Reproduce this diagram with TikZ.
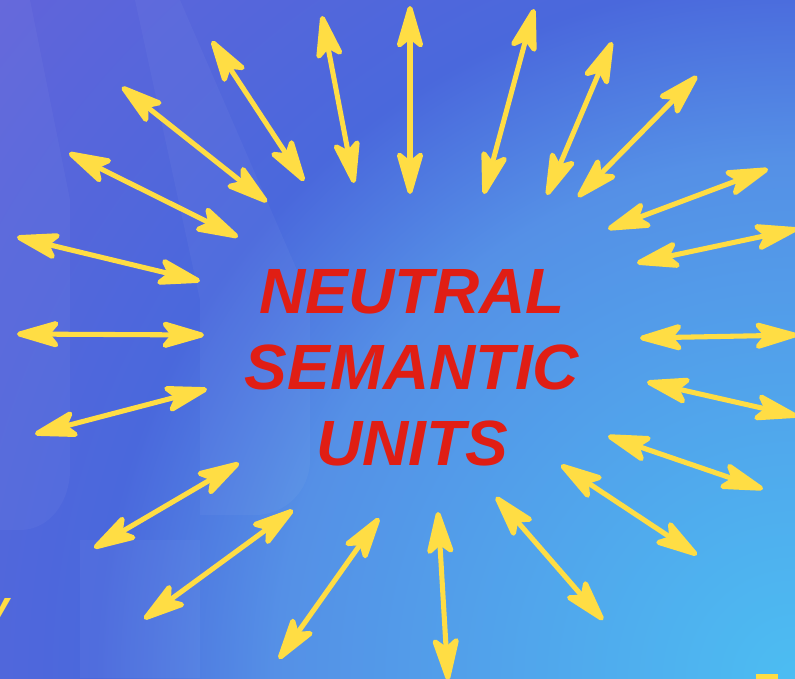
\documentclass[tikz,border=0pt]{standalone}
\usepackage{fontspec}
\setmainfont{Liberation Sans}
\usetikzlibrary{arrows.meta}

\definecolor{rayyellow}{HTML}{FFDD44}
\definecolor{unitred}{HTML}{E01E14}
\definecolor{glowA}{HTML}{4CBDF2}
\definecolor{glowB}{HTML}{5590E6}
\definecolor{glowC}{HTML}{4A68DC}
\definecolor{glowD}{HTML}{6164DA}

% background glow, centred on the bottom right corner
\pgfdeclareradialshading{glow}{\pgfpoint{0bp}{0bp}}{color(0bp)=(glowA); color(11.8bp)=(glowB); color(15.9bp)=(glowC); color(23.75bp)=(glowD); color(50bp)=(glowD)}

\begin{document}
\begin{tikzpicture}[x=0.025cm, y=-0.025cm,
    ray/.style={draw=rayyellow, line width=3.6pt, line cap=round,
        {Stealth[length=13mm, width=7.5mm, inset=3mm, round]}-{Stealth[length=13mm, width=7.5mm, inset=3mm, round]}},
    ghost/.style={fill=white, fill opacity=0.035}]
    \useasboundingbox (0,0) rectangle (795,678);

    \begin{scope}
        \clip (0,0) rectangle (795,678);
        \shade[shading=glow] (795,678) circle[radius=1100];

        % faint shapes behind everything
        \fill[ghost] (0,0) -- (30,0) -- (70,200) -- (70,470) to[out=-90, in=0] (20,530) -- (0,530) -- cycle;
        \fill[ghost] (135,0) -- (180,0) -- (310,300) -- (310,460) to[out=-90, in=0] (255,515) -- (200,515) -- (200,300) -- cycle;
        \fill[ghost] (80,540) rectangle (200,678);

        % cut-off pieces at the edges
        \node[font=\fontsize{31}{31}\selectfont\bfseries\itshape, text=rayyellow, anchor=base east, inner sep=0]
            (edgey) at (10,621) {y};
        \fill[rayyellow] (756,674) rectangle (778,690);
    \end{scope}

    % centre text
    \node[font=\fontsize{45.5}{54}\selectfont\bfseries\itshape, text=unitred, align=center, inner sep=0]
        (units) at (412,368) {NEUTRAL\\SEMANTIC\\UNITS};

    % rays: outer-\n = far end, inner-\n = end near the text
    \foreach \n/\ax/\ay/\bx/\by in {1/17/237/200/281, 2/69/153/238/237, 3/122/87/267/202,
        4/212/41/304/181, 5/322/16/354/183, 6/410/6/410/194, 7/534/9/484/194,
        8/612/42/547/195, 9/697/76/578/197, 10/768/169/608/229, 11/797/229/637/263,
        12/797/335/640/338, 13/797/416/647/382, 14/763/489/608/436, 15/697/555/561/465,
        16/603/620/496/497, 17/448/680/438/512, 18/279/659/379/518, 19/144/619/293/510,
        20/94/548/239/463, 21/35/434/207/389, 22/17/334/204/335} {
        \coordinate (outer-\n) at (\ax,\ay);
        \coordinate (inner-\n) at (\bx,\by);
        \draw[ray] (outer-\n) -- (inner-\n);
    }
\end{tikzpicture}
\end{document}
